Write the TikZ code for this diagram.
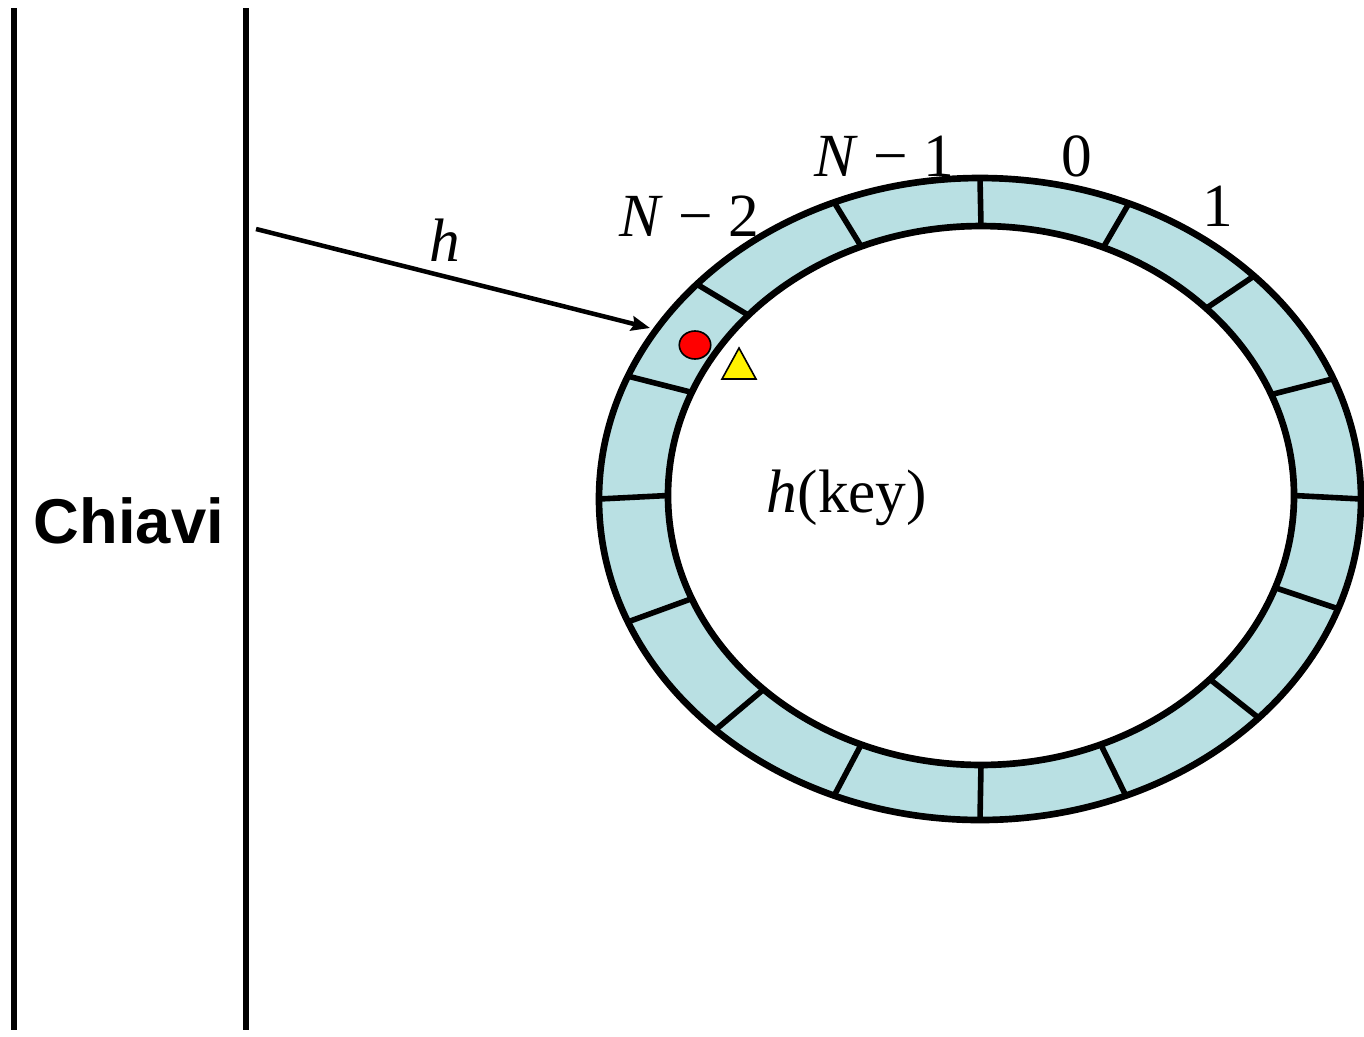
\documentclass[tikz,border=0pt]{standalone}
\usepackage{fontspec}
\setmainfont{Liberation Serif}
\newfontfamily\sansfam{Liberation Sans}
\usetikzlibrary{arrows.meta}
\definecolor{ringblue}{RGB}{185,224,227}
\tikzset{
  lbl/.style={font=\fontsize{46}{50}\selectfont, anchor=base, inner sep=0pt},
  bar/.style={line width=4.6pt},
  ringline/.style={line width=5pt},
  divider/.style={line width=4.2pt},
  marker/.style={draw=black, line width=1.2pt},
}
\begin{document}
\begin{tikzpicture}[x=0.75pt,y=-0.75pt]
\useasboundingbox (0,0) rectangle (1364,1036);
% vertical bars
\coordinate (b1t) at (14,8); \coordinate (b1b) at (14,1030);
\coordinate (b2t) at (246,8); \coordinate (b2b) at (246,1030);
\draw[bar] (b1t) -- (b1b);
\draw[bar] (b2t) -- (b2b);
\node[anchor=base, inner sep=0pt, font=\sansfam\bfseries\fontsize{47.5}{50}\selectfont] (chiavi) at (129,543) {Chiavi};
% ring
\fill[ringblue, even odd rule] (980,499) ellipse [x radius=285.75pt, y radius=240.75pt]
  (981,495.5) ellipse [x radius=234.75pt, y radius=202.1pt];
\foreach \a in {0,23,46,68,90,110,133,157.5,180,202.5,224,247.5,270,292.5,312,337.5}{
  \draw[divider] ({980+381*sin(\a)},{499-321*cos(\a)}) -- ({981+313*sin(\a)},{495.5-269.5*cos(\a)});
}
\draw[ringline] (980,499) ellipse [x radius=285.75pt, y radius=240.75pt];
\draw[ringline] (981,495.5) ellipse [x radius=234.75pt, y radius=202.1pt];
% labels
\node[lbl] (nm1) at (884,176) {\textit{N} − 1};
\node[lbl] (n0) at (1077,176) {0};
\node[lbl] (n1) at (1218,226) {1};
\node[lbl] (nm2) at (689,236) {\textit{N} − 2};
\node[lbl] (hkey) at (847,512) {\textit{h}(key)};
% arrow
\coordinate (as) at (256,229);
\coordinate (ae) at (650,328);
\draw[line width=3.4pt, -{Stealth[length=14pt,width=11pt,inset=2pt]}] (as) -- (ae);
\node[lbl] (hl) at (445,261) {\textit{h}};
% markers
\draw[marker, fill=red] (695,345) ellipse [x radius=11.8pt, y radius=10.5pt];
\draw[marker, fill=yellow] (739,348) -- (756,379) -- (722,379) -- cycle;
\end{tikzpicture}
\end{document}
